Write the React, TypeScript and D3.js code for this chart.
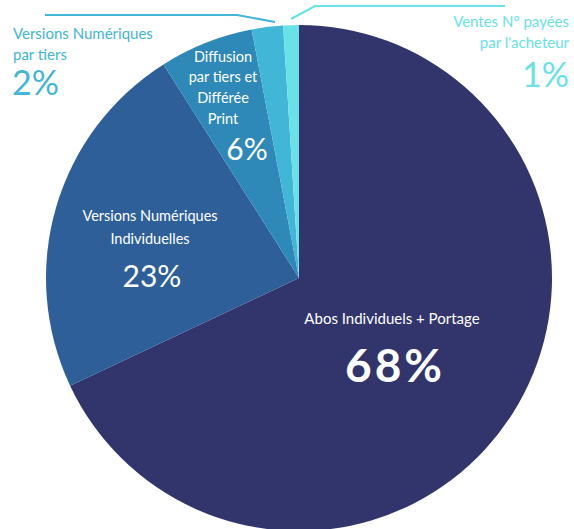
import React, { useEffect, useRef } from 'react';
import * as d3 from 'd3';

// slices, clockwise from 12 o'clock
const categories = [
  'Abos Individuels + Portage',
  'Versions Numériques Individuelles',
  'Diffusion par tiers et Différée Print',
  'Versions Numériques par tiers',
  'Ventes N° payées par l\'acheteur',
];
const shares = [68, 23, 6, 2, 1];
const colors = ['#31356c', '#2e5f99', '#2e89b9', '#41b6d6', '#69e2e7'];

const W = 574;
const H = 529;
const FONT = 'Lato, "Noto Sans", sans-serif';

const App = () => {
  const ref = useRef<SVGSVGElement | null>(null);

  useEffect(() => {
    const svg = d3.select(ref.current);
    svg.selectAll('*').remove();

    const cx = 299;
    const cy = 278;
    const r = 253;

    const rows = categories.map((c, i) => ({ name: c, value: shares[i], color: colors[i] }));
    const pie = d3.pie<any>().sort(null).value(d => d.value).startAngle(0).endAngle(2 * Math.PI);
    const arc = d3.arc<any>().innerRadius(0).outerRadius(r);

    const g = svg.append('g').attr('transform', `translate(${cx},${cy})`);
    g.selectAll('path')
      .data(pie(rows))
      .enter().append('path')
      .attr('d', arc)
      .attr('fill', d => d.data.color);

    const text = (x: number, y: number, s: string, size: number, fill: string, anchor = 'middle', weight = 'normal', spacing = 0) =>
      svg.append('text')
        .attr('x', x)
        .attr('y', y)
        .attr('text-anchor', anchor)
        .attr('font-family', FONT)
        .attr('font-size', size)
        .attr('font-weight', weight)
        .attr('letter-spacing', spacing)
        .attr('fill', fill)
        .text(s);

    // inside labels
    text(392, 324, 'Abos Individuels + Portage', 15, '#fff');
    text(395, 382, '68%', 46, '#fff', 'middle', 'bold', 3);

    text(150, 221, 'Versions Numériques', 14.5, '#fff');
    text(150, 244, 'Individuelles', 14.5, '#fff');
    text(152, 287, '23%', 30, '#fff');

    text(223, 62, 'Diffusion', 14.5, '#fff');
    text(223, 82, 'par tiers et', 14.5, '#fff');
    text(223, 103, 'Différée', 14.5, '#fff');
    text(223, 124, 'Print', 14.5, '#fff');
    text(247, 160, '6%', 30, '#fff');

    // outside labels with leader lines
    svg.append('polyline')
      .attr('points', '45,15 237,15 275,22')
      .attr('fill', 'none')
      .attr('stroke', colors[3])
      .attr('stroke-width', 2);
    text(13, 39, 'Versions Numériques', 15, colors[3], 'start');
    text(13, 60, 'par tiers', 15, colors[3], 'start');
    text(12, 95, '2%', 34, colors[3], 'start');

    svg.append('polyline')
      .attr('points', '291,19 315,6 505,6')
      .attr('fill', 'none')
      .attr('stroke', colors[4])
      .attr('stroke-width', 2);
    text(569, 27, 'Ventes N° payées', 15, colors[4], 'end');
    text(569, 48, 'par l\'acheteur', 15, colors[4], 'end');
    text(569, 87, '1%', 34, colors[4], 'end');
  }, []);

  return (
    <div style={{ position: 'fixed', left: 0, top: 0, width: W, height: H, background: '#fff' }}>
      <svg ref={ref} width={W} height={H} />
    </div>
  );
};

export default App;
